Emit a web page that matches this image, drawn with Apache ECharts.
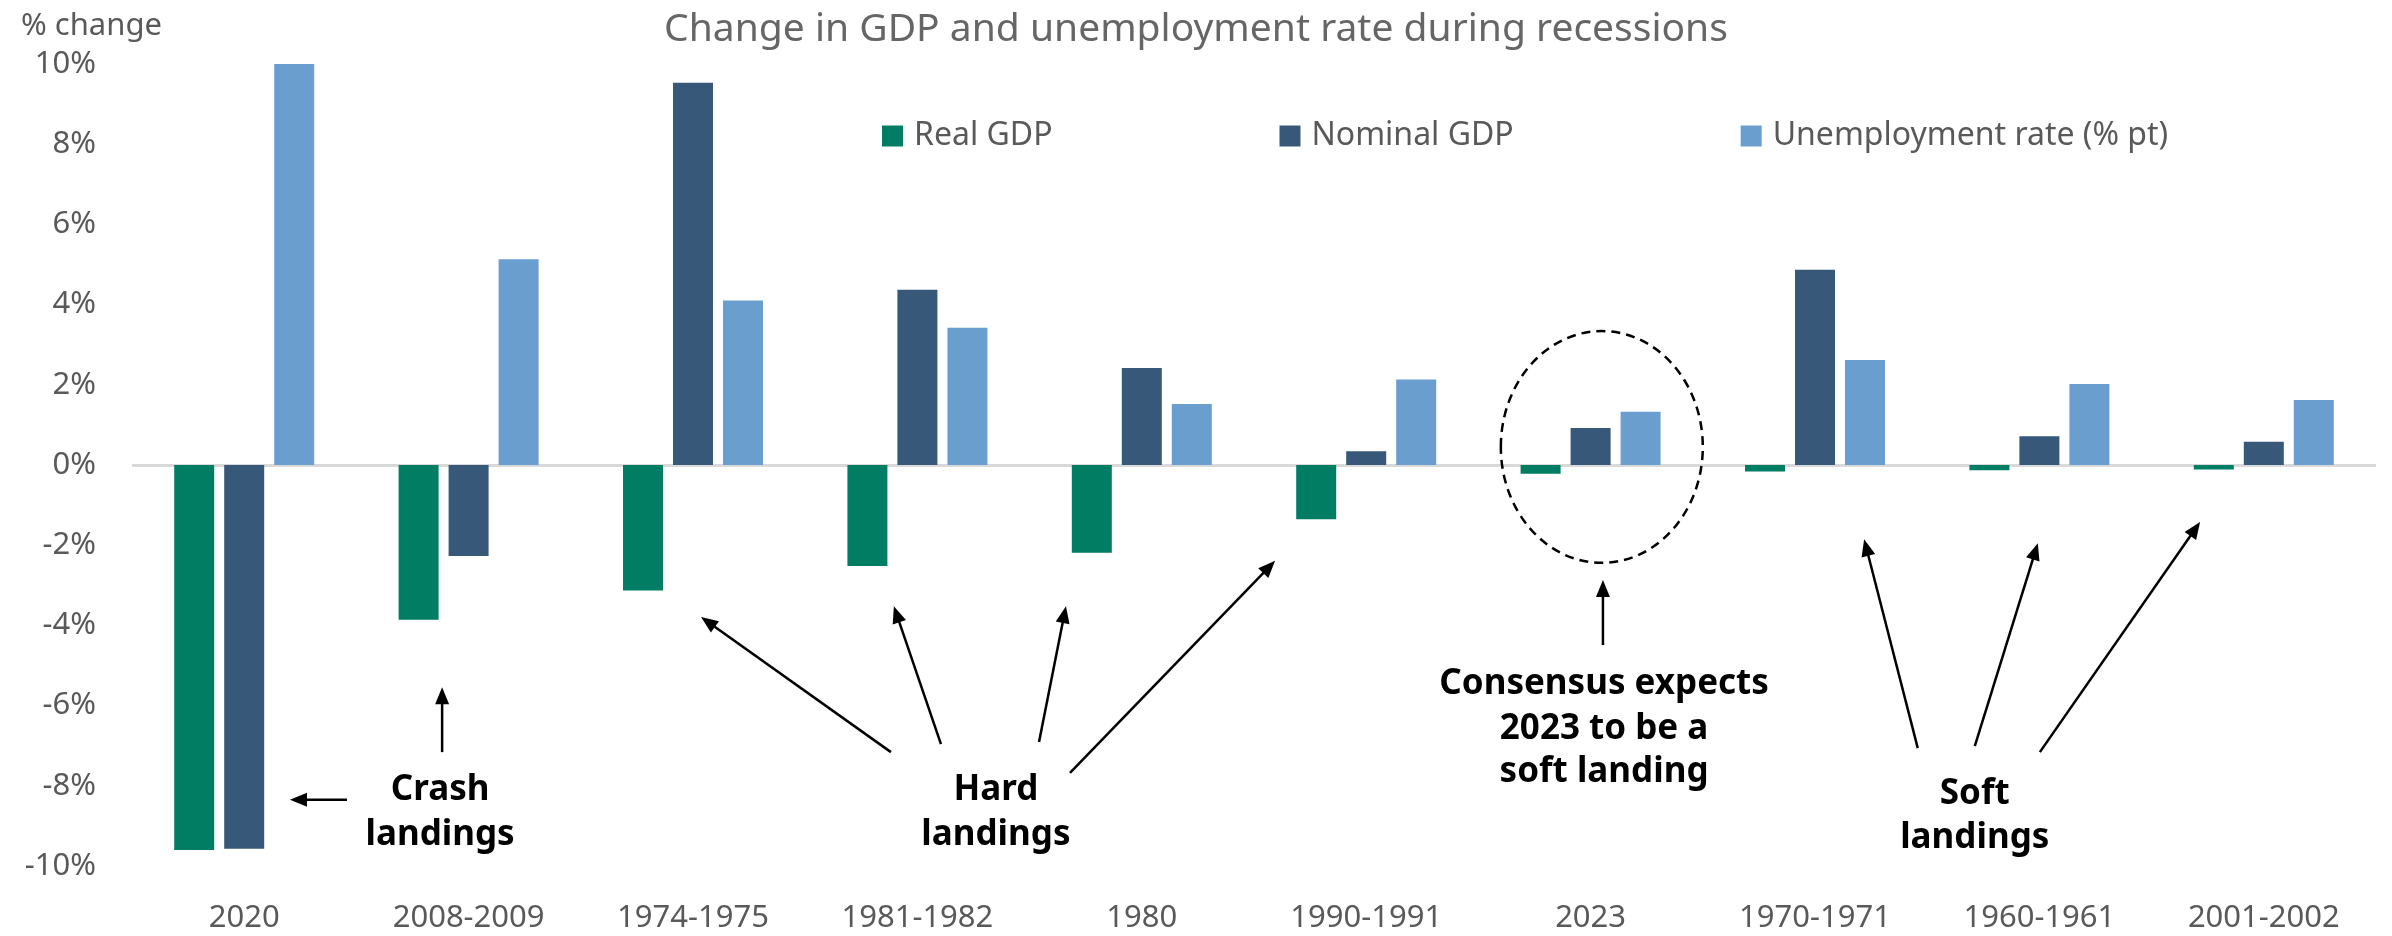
<!DOCTYPE html>
<html>
<head>
<meta charset="utf-8">
<script src="https://cdn.jsdelivr.net/npm/echarts@6/dist/echarts.min.js"></script>
<style>
html,body{margin:0;padding:0;background:#fff;}
#c{width:2392px;height:936px;}
</style>
</head>
<body>
<div id="c"></div>
<script>
// ---- data ----
const categories = ['2020','2008-2009','1974-1975','1981-1982','1980','1990-1991','2023','1970-1971','1960-1961','2001-2002'];
const realGDP    = [-9.6, -3.86, -3.13, -2.52, -2.19, -1.35, -0.22, -0.16, -0.13, -0.11];
const nominalGDP = [-9.57, -2.27, 9.53, 4.37, 2.42, 0.34, 0.92, 4.87, 0.72, 0.58];
const unemployment = [10.0, 5.13, 4.1, 3.42, 1.52, 2.13, 1.33, 2.62, 2.02, 1.62];
const yTicks = {min: -10, max: 10, interval: 2};
const seriesNames = ['Real GDP', 'Nominal GDP', 'Unemployment rate (% pt)'];
const colors = ['#007D63', '#375878', '#6A9ECF'];

// annotation positions in data space: [category index, value]
const annoTexts = [
  {lines: ['Crash', 'landings'], at: [0.873, [-8.10, -9.23]]},
  {lines: ['Hard', 'landings'], at: [3.35, [-8.10, -9.23]]},
  {lines: ['Consensus expects', '2023 to be a', 'soft landing'], at: [6.06, [-5.45, -6.58, -7.66]]},
  {lines: ['Soft', 'landings'], at: [7.712, [-8.20, -9.30]]}
];
const annoArrows = [
  [[0.458, -8.35], [0.204, -8.35]],
  [[0.882, -7.16], [0.882, -5.54]],
  [[2.882, -7.16], [2.036, -3.79]],
  [[3.105, -6.96], [2.895, -3.52]],
  [[3.542, -6.91], [3.662, -3.52]],
  [[3.680, -7.68], [4.594, -2.39]],
  [[6.055, -4.49], [6.055, -2.87]],
  [[7.458, -7.06], [7.219, -1.85]],
  [[7.712, -7.01], [7.993, -1.95]],
  [[8.002, -7.16], [8.716, -1.42]]
];
const annoEllipse = {center: [6.05, 0.45], rx: 0.45, ry: 2.89};

const FONT = '"Noto Sans", "Open Sans", sans-serif';
const chart = echarts.init(document.getElementById('c'), null, {renderer: 'canvas'});

const mkSeries = (name, data, i) => ({
  name, type: 'bar', data,
  barWidth: 40, barGap: '25%',
  itemStyle: {color: colors[i]},
  z: 3,
  markLine: i === 0 ? {
    silent: true, symbol: 'none', label: {show: false},
    lineStyle: {color: '#D9D9D9', width: 3, type: 'solid'},
    data: [{yAxis: 0}], z: 1
  } : undefined
});

chart.setOption({
  animation: false,
  backgroundColor: '#fff',
  title: [
    {text: 'Change in GDP and unemployment rate during recessions', left: 'center', top: 5,
     textStyle: {fontFamily: FONT, fontSize: 39, fontWeight: 'normal', color: '#666666'}},
    {text: '% change', left: 16, top: 6,
     textStyle: {fontFamily: FONT, fontSize: 31, fontWeight: 'normal', color: '#595959'}}
  ],
  legend: {
    data: seriesNames, left: 877, top: 115, itemWidth: 21, itemHeight: 21, itemGap: 227,
    icon: 'rect',
    textStyle: {fontFamily: FONT, fontSize: 32, color: '#595959', padding: [0, 0, 0, 6]}
  },
  grid: {left: 132, right: 16, top: 64, bottom: 70, containLabel: false},
  xAxis: {
    type: 'category', data: categories,
    axisLine: {show: false}, axisTick: {show: false},
    axisLabel: {fontFamily: FONT, fontSize: 31, color: '#595959', margin: 37, interval: 0}
  },
  yAxis: {
    type: 'value', min: yTicks.min, max: yTicks.max, interval: yTicks.interval,
    splitLine: {show: false}, axisLine: {show: false}, axisTick: {show: false},
    axisLabel: {fontFamily: FONT, fontSize: 31, color: '#595959', margin: 36, formatter: '{value}%'}
  },
  series: [mkSeries(seriesNames[0], realGDP, 0), mkSeries(seriesNames[1], nominalGDP, 1), mkSeries(seriesNames[2], unemployment, 2)]
});

// convert data-space annotation positions through the axes
function toPx(i, v) {
  const x0 = chart.convertToPixel({xAxisIndex: 0}, categories[0]);
  const x1 = chart.convertToPixel({xAxisIndex: 0}, categories[1]);
  const y = chart.convertToPixel({yAxisIndex: 0}, v);
  return [x0 + (x1 - x0) * i, y];
}
const graphics = [];
annoTexts.forEach(t => {
  t.lines.forEach((ln, k) => {
    const p = toPx(t.at[0], t.at[1][k]);
    graphics.push({type: 'text', z: 10, style: {text: ln, x: p[0], y: p[1], textAlign: 'center', textVerticalAlign: 'middle',
      font: 'bold 35px ' + FONT, fill: '#000'}});
  });
});
annoArrows.forEach(a => {
  const p = toPx(a[0][0], a[0][1]);
  const q = toPx(a[1][0], a[1][1]);
  const dx = q[0] - p[0], dy = q[1] - p[1];
  const L = Math.hypot(dx, dy), ux = dx / L, uy = dy / L;
  const hl = 17, hw = 7;
  const bx = q[0] - ux * hl, by = q[1] - uy * hl;
  graphics.push({type: 'line', z: 10, shape: {x1: p[0], y1: p[1], x2: bx + ux * 2, y2: by + uy * 2},
    style: {stroke: '#000', lineWidth: 2.5}});
  graphics.push({type: 'polygon', z: 10, shape: {points: [[q[0], q[1]], [bx - uy * hw, by + ux * hw], [bx + uy * hw, by - ux * hw]]},
    style: {fill: '#000'}});
});
(function () {
  const c = toPx(annoEllipse.center[0], annoEllipse.center[1]);
  const e = toPx(annoEllipse.center[0] + annoEllipse.rx, annoEllipse.center[1] + annoEllipse.ry);
  graphics.push({type: 'ellipse', z: 10, shape: {cx: c[0], cy: c[1], rx: e[0] - c[0], ry: c[1] - e[1]},
    style: {fill: 'none', stroke: '#000', lineWidth: 2.5, lineDash: [9, 6]}});
})();
chart.setOption({graphic: graphics});
</script>
</body>
</html>
